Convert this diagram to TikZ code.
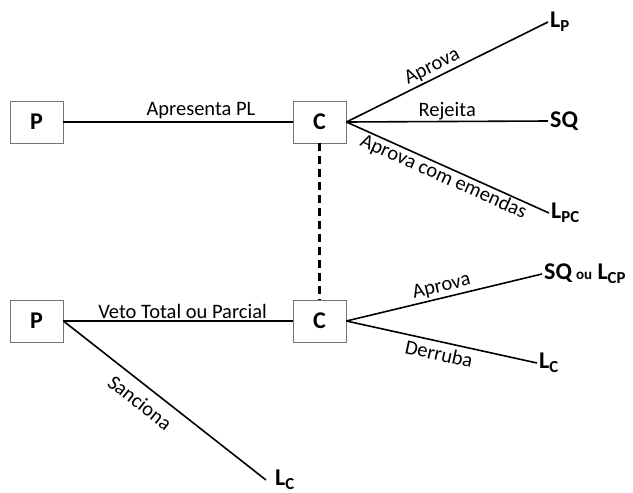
\documentclass[tikz,border=0pt]{standalone}
\usepackage{fontspec}
\setmainfont{Carlito}

\begin{document}
\begin{tikzpicture}[x=1pt,y=-1pt,
    box/.style={draw=black!55,line width=0.8pt,minimum width=53,minimum height=42,inner sep=0,font=\fontsize{24}{24}\selectfont\bfseries},
    res/.style={anchor=west,inner sep=2pt,font=\fontsize{24}{24}\selectfont\bfseries},
    lab/.style={font=\fontsize{20.5}{21}\selectfont,inner sep=2pt},
    ramo/.style={line width=1.6pt}]
    \useasboundingbox (0,0) rectangle (633,493);

    \node[box](p1) at (36.5,122){P};
    \node[box](c1) at (319.5,122){C};
    \node[box](p2) at (36.5,321){P};
    \node[box](c2) at (319.5,321){C};

    \node[res](lp) at (548,22){L\textsubscript{P}};
    \node[res](sq) at (548,121){SQ};
    \node[res](lpc) at (549,213){L\textsubscript{PC}};
    \node[res](sqlcp) at (542,274){SQ\,{\fontsize{15}{15}\selectfont ou} L\textsubscript{CP}};
    \node[res](lc1) at (537,363){L\textsubscript{C}};
    \node[res,inner xsep=9pt](lc2) at (266,480){L\textsubscript{C}};

    \draw[ramo](p1)--node[lab,above,pos=0.6]{Apresenta PL}(c1);
    \draw[ramo](c1.east)--node[lab,above,sloped,pos=0.45]{Aprova}(lp.west);
    \draw[ramo](c1.east)--node[lab,above,inner sep=1pt]{Rejeita}(sq.west);
    \draw[ramo](c1.east)--node[lab,below,sloped,inner sep=1pt]{Aprova com emendas}(lpc.west);
    \draw[line width=2.4pt,dash pattern=on 8pt off 5pt](c1)--(c2);

    \draw[ramo](p2)--node[lab,above,pos=0.52]{Veto Total ou Parcial}(c2);
    \draw[ramo](c2.east)--node[lab,above,sloped]{Aprova}(sqlcp.west);
    \draw[ramo](c2.east)--node[lab,below,sloped,inner sep=4pt]{Derruba}(lc1.west);
    \draw[ramo](p2.east)--node[lab,below,sloped,pos=0.43,inner sep=9pt]{Sanciona}(lc2.west);
\end{tikzpicture}
\end{document}
